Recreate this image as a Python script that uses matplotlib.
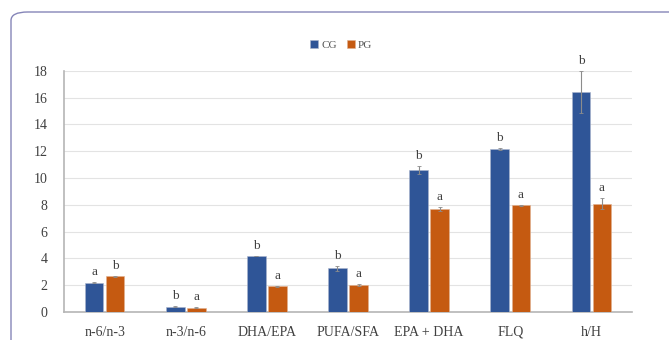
import numpy as np
import matplotlib.pyplot as plt
from matplotlib.patches import FancyBboxPatch

categories = ["n-6/n-3", "n-3/n-6", "DHA/EPA", "PUFA/SFA", "EPA + DHA", "FLQ", "h/H"]
cg_values = [2.2, 0.4, 4.18, 3.26, 10.6, 12.16, 16.44]
pg_values = [2.66, 0.33, 1.92, 2.02, 7.7, 7.96, 8.1]
cg_err = [0.04, 0.02, 0.03, 0.2, 0.3, 0.05, 1.56]
pg_err = [0.04, 0.02, 0.05, 0.08, 0.15, 0.03, 0.4]
cg_letters = ["a", "b", "b", "b", "b", "b", "b"]
pg_letters = ["b", "a", "a", "a", "a", "a", "a"]

BLUE = "#2f5597"
ORANGE = "#c55a11"
plt.rcParams["font.family"] = ["Liberation Serif", "DejaVu Serif"]

fig = plt.figure(figsize=(6.69, 3.40), dpi=100)
ax = fig.add_axes([0.0957, 0.0824, 0.849, 0.709])

# outer rounded frame around the figure panel
frame = FancyBboxPatch(
    (11 / 669, -0.2), 1.2, 1.2 - 12 / 340,
    boxstyle="round,pad=0,rounding_size=0.025",
    transform=fig.transFigure, fill=False,
    edgecolor="#8585b8", linewidth=1.0, clip_on=False,
)
fig.patches.append(frame)

x = np.arange(len(categories))
w = 0.23
gap = 0.03
err_kw = dict(ecolor="#8c8c8c", elinewidth=0.8, capsize=1.5, capthick=0.6)
ax.bar(x - w / 2 - gap / 2, cg_values, w, yerr=cg_err, color=BLUE,
       edgecolor="#aab4cc", linewidth=0.4, label="CG", error_kw=err_kw, zorder=3)
ax.bar(x + w / 2 + gap / 2, pg_values, w, yerr=pg_err, color=ORANGE,
       edgecolor="#e0b090", linewidth=0.4, label="PG", error_kw=err_kw, zorder=3)

for i in range(len(categories)):
    ax.text(x[i] - w / 2 - gap / 2, cg_values[i] + cg_err[i] + 0.3, cg_letters[i],
            ha="center", va="bottom", fontsize=9.5, color="#404040")
    ax.text(x[i] + w / 2 + gap / 2, pg_values[i] + pg_err[i] + 0.3, pg_letters[i],
            ha="center", va="bottom", fontsize=9.5, color="#404040")

ax.set_xlim(-0.5, len(categories) - 0.5)
ax.set_ylim(0, 18)
ax.set_yticks(np.arange(0, 19, 2))
ax.set_xticks(x)
ax.set_xticklabels(categories)
ax.tick_params(axis="both", length=0, labelsize=10, colors="#404040")
ax.tick_params(axis="x", pad=10)
ax.tick_params(axis="y", pad=12)
ax.grid(axis="y", color="#e3e3e3", linewidth=0.8, zorder=0)
for side in ["top", "right"]:
    ax.spines[side].set_visible(False)
ax.spines["left"].set_color("#b5b5b5")
ax.spines["left"].set_linewidth(1.2)
ax.spines["bottom"].set_color("#b5b5b5")
ax.spines["bottom"].set_linewidth(1.2)

leg = ax.legend(loc="center", bbox_to_anchor=(0.488, 1.108), ncol=2, frameon=False,
                fontsize=8, handlelength=0.7, handleheight=0.7, handletextpad=0.3,
                columnspacing=0.9)
for t in leg.get_texts():
    t.set_color("#505050")

fig.savefig("out.png", dpi=100)
